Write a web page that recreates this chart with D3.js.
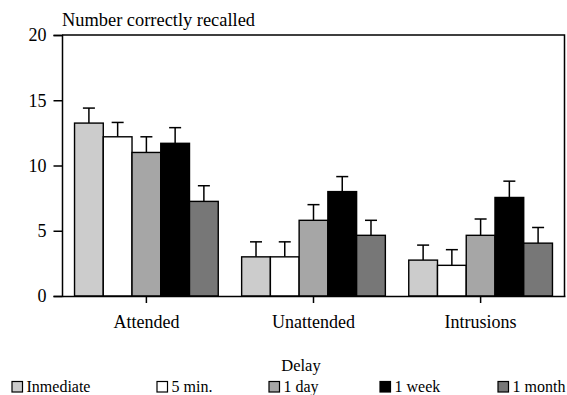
<!DOCTYPE html>
<html>
<head>
<meta charset="utf-8">
<script src="https://cdn.jsdelivr.net/npm/d3@7"></script>
<style>
  html, body { margin: 0; padding: 0; background: #fff; }
  svg { display: block; }
</style>
</head>
<body>
<svg id="chart" width="567" height="395"></svg>
<script>
// Recall scores by condition and delay
const categories = ["Attended", "Unattended", "Intrusions"];
const delays = ["Inmediate", "5 min.", "1 day", "1 week", "1 month"];
const delayColors = ["#cccccc", "#ffffff", "#a6a6a6", "#000000", "#777777"];
const means = [
  [13.25, 12.2, 11.0, 11.7, 7.25],   // Attended
  [3.0, 3.0, 5.8, 8.0, 4.65],        // Unattended
  [2.75, 2.35, 4.65, 7.55, 4.05]     // Intrusions
];
const errors = [
  [1.15, 1.1, 1.2, 1.2, 1.2],
  [1.15, 1.15, 1.2, 1.15, 1.15],
  [1.15, 1.2, 1.25, 1.25, 1.2]
];
const yTicks = [0, 5, 10, 15, 20];

const FONT = "Liberation Serif";
const svg = d3.select("#chart");
const margin = { left: 62, right: 2, top: 35, bottom: 99 };
const W = 567, H = 395;
const x0 = d3.scaleBand().domain(categories).range([margin.left, W - margin.right]).paddingInner(0.14).paddingOuter(0.075);
const x1 = d3.scaleBand().domain(delays).range([0, x0.bandwidth()]);
const y = d3.scaleLinear().domain([0, 20]).range([H - margin.bottom, margin.top]);

// frame: top and right edges
svg.append("path")
  .attr("d", `M${margin.left},${y(20)}H${W - margin.right - 0.5}V${y(0)}`)
  .attr("fill", "none").attr("stroke", "#000").attr("stroke-width", 1.5);

// bars and error bars
const groups = svg.append("g").selectAll("g")
  .data(categories).join("g")
  .attr("transform", c => `translate(${x0(c)},0)`);

groups.each(function (c, ci) {
  const g = d3.select(this);
  const rows = delays.map((d, di) => ({ d, di, v: means[ci][di], e: errors[ci][di] }));
  const eb = g.selectAll("g.err").data(rows).join("g").attr("class", "err");
  eb.append("line")
    .attr("x1", r => x1(r.d) + x1.bandwidth() / 2)
    .attr("x2", r => x1(r.d) + x1.bandwidth() / 2)
    .attr("y1", r => y(r.v)).attr("y2", r => y(r.v + r.e))
    .attr("stroke", "#000").attr("stroke-width", 1.5);
  eb.append("line")
    .attr("x1", r => x1(r.d) + x1.bandwidth() / 2 - 6)
    .attr("x2", r => x1(r.d) + x1.bandwidth() / 2 + 6)
    .attr("y1", r => y(r.v + r.e)).attr("y2", r => y(r.v + r.e))
    .attr("stroke", "#000").attr("stroke-width", 1.5);
  g.selectAll("rect").data(rows).join("rect")
    .attr("x", r => x1(r.d))
    .attr("y", r => y(r.v))
    .attr("width", x1.bandwidth())
    .attr("height", r => y(0) - y(r.v))
    .attr("fill", r => delayColors[r.di])
    .attr("stroke", "#000").attr("stroke-width", 1.4);
});

// y axis
const yAxis = svg.append("g")
  .attr("transform", `translate(${margin.left},0)`)
  .call(d3.axisLeft(y).tickValues(yTicks).tickSize(8.5).tickPadding(7));
yAxis.attr("font-family", FONT).attr("font-size", 18);
yAxis.select(".domain").attr("stroke-width", 1.5);
yAxis.selectAll(".tick line").attr("stroke-width", 1.5);
yAxis.selectAll("text").attr("font-family", FONT).attr("font-size", 18).attr("fill", "#000");

// x axis
const xAxis = svg.append("g")
  .attr("transform", `translate(0,${y(0)})`)
  .call(d3.axisBottom(x0).tickSize(7).tickPadding(12).tickSizeOuter(0));
xAxis.attr("font-family", FONT).attr("font-size", 18);
xAxis.select(".domain").attr("stroke-width", 1.5);
xAxis.selectAll(".tick line").attr("stroke-width", 1.5);
xAxis.selectAll("text").attr("font-family", FONT).attr("font-size", 18).attr("fill", "#000");

// y axis title
svg.append("text")
  .attr("x", margin.left).attr("y", 26)
  .attr("font-family", FONT).attr("font-size", 18.4)
  .text("Number correctly recalled");

// legend
svg.append("text")
  .attr("x", 301).attr("y", 370.5)
  .attr("text-anchor", "middle")
  .attr("font-family", FONT).attr("font-size", 16.5)
  .text("Delay");

const legendX = [12, 157, 269, 380, 498];
const legend = svg.append("g").selectAll("g")
  .data(delays).join("g")
  .attr("transform", (d, i) => `translate(${legendX[i]},381.5)`);
legend.append("rect")
  .attr("width", 10.5).attr("height", 10.5)
  .attr("fill", (d, i) => delayColors[i])
  .attr("stroke", "#000").attr("stroke-width", 1.2);
legend.append("text")
  .attr("x", 14.5).attr("y", 10)
  .attr("font-family", FONT).attr("font-size", 16)
  .text(d => d);
</script>
</body>
</html>
